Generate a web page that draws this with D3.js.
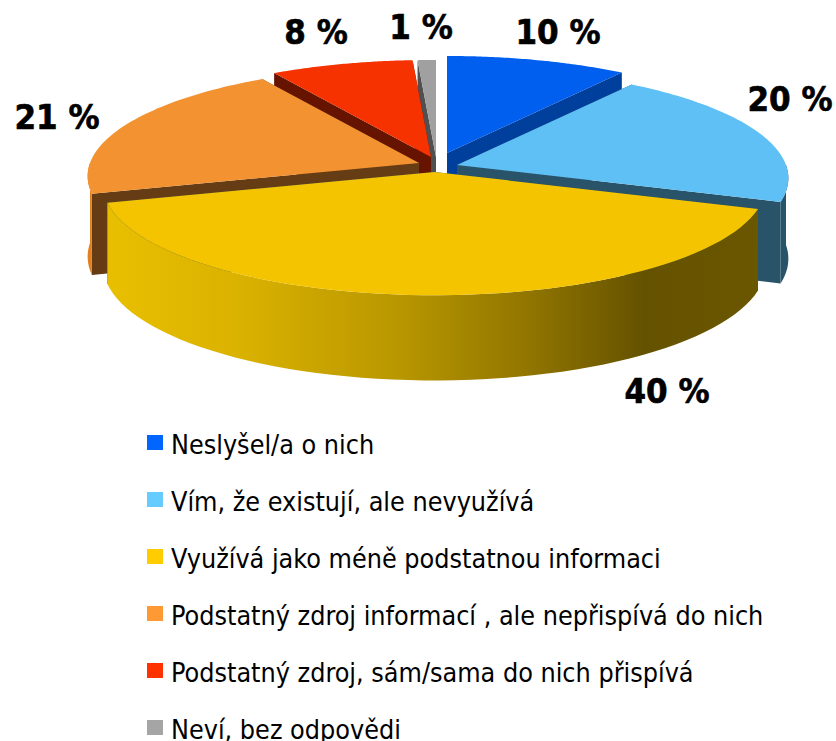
<!DOCTYPE html>
<html><head><meta charset="utf-8">
<script src="https://cdn.jsdelivr.net/npm/d3@7"></script>
<style>html,body{margin:0;padding:0;background:#fff;overflow:hidden}</style>
</head><body><svg id="c" width="836" height="741"></svg>
<script>
const categories = ["Neslyšel/a o nich","Vím, že existují, ale nevyužívá","Využívá jako méně podstatnou informaci","Podstatný zdroj informací , ale nepřispívá do nich","Podstatný zdroj, sám/sama do nich přispívá","Neví, bez odpovědi"];
const values = [9.9,20.4,40.3,20.6,7.8,1.0];
const topColors = ["#005fee","#5fc0f5","#f4c400","#f39230","#f53200","#a0a0a0"];
const legendColors = ["#0066ff","#66ccff","#ffcc00","#ff9933","#ff3300","#a5a5a5"];
const cutColors = ["#003f9b","#285368","#285368","#663c14","#661400","#505050"];
const rimColors = ["#003f9b","#285368","url(#rim)","#e08020","#661400","#505050"];

// layout, not data
const R=329, F=8.4*R, K=0.33, CX=434.5, CY=172, DEPTH=80;
const shifts=[[12.5,-19],[22.5,-7],[0,0],[-15.5,-9],[-3.5,-15],[1.5,-15]];
const labelPos=[[558,44],[790,111],[667,403],[57,129],[316,44],[421,39]];
const paintOrder=[5,4,0,3,1,2];

const svg=d3.select("#c");
const arcs=d3.pie().value(d=>d).sort(null).startAngle(0).endAngle(2*Math.PI)(values);
const line=d3.line();
function project(a,i,r,drop){
  const X=r*R*Math.sin(a), Z=r*R*Math.cos(a), s=F/(F+Z);
  return [CX+shifts[i][0]+X*s, CY+shifts[i][1]-Z*K*s+drop*Math.sqrt(s)];
}
const samples=(a0,a1)=>d3.range(0,61).map(v=>d3.scaleLinear([0,60],[a0,a1])(v));

const rim=svg.append("defs").append("linearGradient").attr("id","rim")
  .attr("gradientUnits","userSpaceOnUse").attr("x1",108).attr("x2",761).attr("y1",0).attr("y2",0);
[[0,"#e8bf00"],[0.2,"#dab200"],[0.45,"#b89600"],[0.65,"#8f7400"],[0.82,"#655200"],[1,"#6b5700"]]
  .forEach(([o,c])=>rim.append("stop").attr("offset",o).attr("stop-color",c));

const g=svg.append("g");
paintOrder.forEach(i=>{
  const d=arcs[i], pts=samples(d.startAngle,d.endAngle);
  [d.startAngle,d.endAngle].forEach(a=>{
    g.append("path").attr("fill",cutColors[i]).attr("d",line([
      project(a,i,0,0),project(a,i,1,0),project(a,i,1,DEPTH),project(a,i,0,DEPTH)])+"Z");
  });
  // only the part of the outer wall that faces the viewer
  const w0=Math.max(d.startAngle,Math.PI/2), w1=Math.min(d.endAngle,1.5*Math.PI);
  if(w0<w1){
    const wp=samples(w0,w1);
    g.append("path").attr("fill",rimColors[i]).attr("d",line(
      wp.map(a=>project(a,i,1,0)).concat(wp.slice().reverse().map(a=>project(a,i,1,DEPTH))))+"Z");
  }
  g.append("path").attr("fill",topColors[i]).attr("d",line(
    [project(0,i,0,0)].concat(pts.map(a=>project(a,i,1,0))))+"Z");
});

svg.append("g").selectAll("text").data(values).join("text")
  .attr("x",(d,i)=>labelPos[i][0]).attr("y",(d,i)=>labelPos[i][1])
  .attr("text-anchor","middle")
  .style("font","bold 34.5px 'DejaVu Sans'").style("font-stretch","condensed")
  .attr("fill","#000").attr("stroke","#000").attr("stroke-width",0.6).text(d=>Math.round(d)+" %");

const rowY=d3.scaleLinear([0,1],[0,57]);
const leg=svg.append("g").selectAll("g").data(categories).join("g")
  .attr("transform",(d,i)=>`translate(147,${rowY(i)})`);
leg.append("rect").attr("x",0).attr("y",435).attr("width",16).attr("height",15)
  .attr("fill",(d,i)=>legendColors[i]);
leg.append("text").attr("x",24).attr("y",454).attr("fill","#000")
  .style("font","26.7px 'DejaVu Sans'").style("font-stretch","condensed").text(d=>d);
</script></body></html>
